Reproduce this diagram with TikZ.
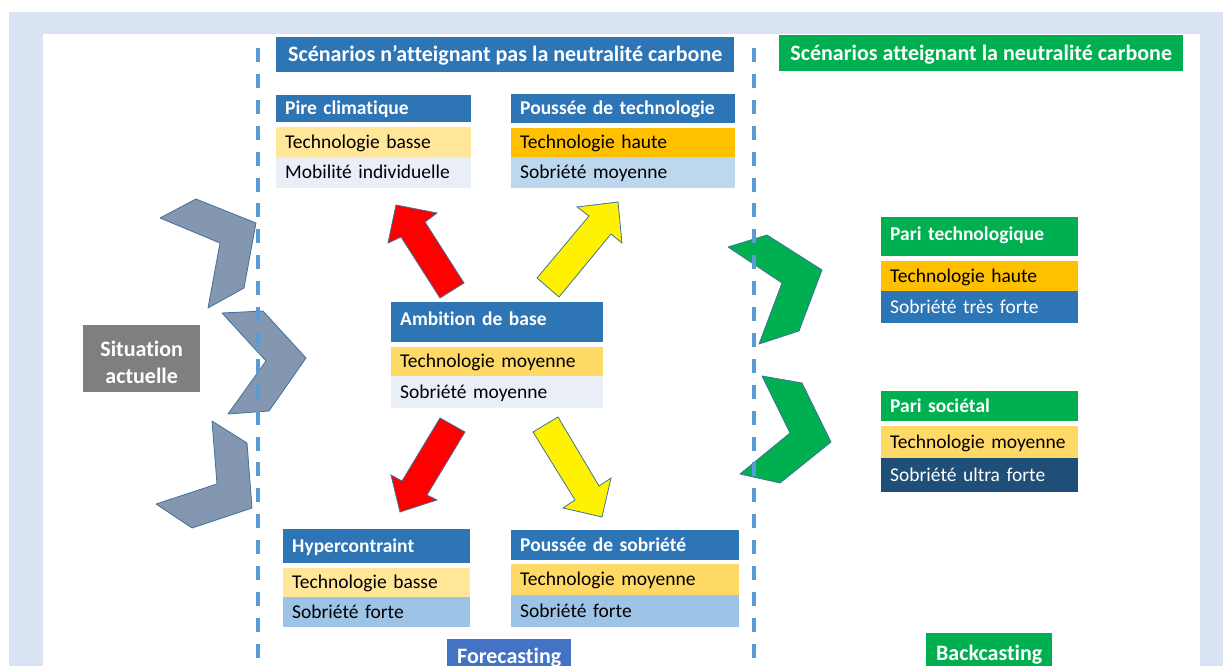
\documentclass[tikz,border=0pt]{standalone}
\usepackage{fontspec}
\setmainfont{Carlito}[Ligatures=CommonOff]
\definecolor{frameblue}{HTML}{DAE3F3}
\definecolor{hdrblue}{HTML}{2E75B6}
\definecolor{foreblue}{HTML}{4472C4}
\definecolor{pgreen}{HTML}{00B050}
\definecolor{techlow}{HTML}{FFE699}
\definecolor{techmid}{HTML}{FFD966}
\definecolor{techhigh}{HTML}{FFC000}
\definecolor{soblight}{HTML}{E9EEF7}
\definecolor{sobmid}{HTML}{BDD7EE}
\definecolor{sobhigh}{HTML}{9DC3E6}
\definecolor{sobultra}{HTML}{1F4E79}
\definecolor{situgray}{HTML}{7F7F7F}
\definecolor{chevgray}{HTML}{8497B0}
\definecolor{chevline}{HTML}{41719C}
\definecolor{sepblue}{HTML}{5B9BD5}
\begin{document}
\begin{tikzpicture}[x=1pt,y=-1pt,
  cell/.style={anchor=north west,inner xsep=9pt,inner ysep=0pt,align=left,text height=12pt,text depth=0pt,font=\fontsize{19.5}{23}\selectfont},
  head/.style={cell,text=white,font=\fontsize{19.5}{23}\selectfont\bfseries},
  title/.style={anchor=north west,inner sep=0pt,align=center,text=white,text height=14pt,text depth=0pt,font=\fontsize{22}{27}\selectfont\bfseries},
  chev/.style={draw=chevline,fill=chevgray,line width=0.8pt,line join=round},
  chevG/.style={chev,fill=pgreen},
  blk/.style={draw=chevline,line width=0.8pt},
  sep/.style={draw=sepblue,line width=3.5pt,dash pattern=on 14pt off 11.9pt}]
\useasboundingbox (0,0) rectangle (1223,666);
\clip (0,0) rectangle (1223,666);

\fill[frameblue] (9,12) rectangle (1223,666);
\fill[white] (43,34) rectangle (1200,666);

\draw[chev] (160,218) -- (196,199) -- (256,223) -- (244,288) -- (208,308) -- (220,243) -- cycle;
\draw[chev] (222,313) -- (263,311) -- (306,358) -- (269,411) -- (228,414) -- (266,361) -- cycle;
\draw[chev] (212,421) -- (247,443) -- (252,508) -- (192,528) -- (156,504) -- (217,484) -- cycle;
\draw[chevG] (728,247) -- (767,235) -- (822,270) -- (799,331) -- (759,344) -- (782,283) -- cycle;
\draw[chevG] (762,376) -- (802,383) -- (831,442) -- (780,483) -- (740,474) -- (790,433) -- cycle;

\draw[sep] (258,48) -- (258,662);
\draw[sep] (754,48) -- (754,662);

\node[title,fill=hdrblue,minimum width=458pt,minimum height=35pt] (ntitle) at (276,37) {Scénarios n’atteignant pas la neutralité carbone};
\node[title,fill=pgreen,minimum width=404pt,minimum height=36pt] (ctitle) at (779,35) {Scénarios atteignant la neutralité carbone};

\node[head,fill=hdrblue,text width=177pt,minimum height=27pt] (pire) at (276,95) {Pire climatique};
\node[cell,fill=techlow,text width=177pt,minimum height=30pt] (pire1) at (276,127) {Technologie basse};
\node[cell,fill=soblight,text width=177pt,minimum height=31pt] (pire2) at (276,157) {Mobilité individuelle};

\node[head,fill=hdrblue,text width=206pt,minimum height=29pt] (pousT) at (511,94) {Poussée de technologie};
\node[cell,fill=techhigh,text width=206pt,minimum height=29pt] (pousT1) at (511,128) {Technologie haute};
\node[cell,fill=sobmid,text width=206pt,minimum height=31pt] (pousT2) at (511,157) {Sobriété moyenne};

\node[head,fill=hdrblue,text width=194pt,minimum height=40pt,text depth=6pt] (ambi) at (391,302) {Ambition de base};
\node[cell,fill=techmid,text width=194pt,minimum height=29pt] (ambi1) at (391,347) {Technologie moyenne};
\node[cell,fill=soblight,text width=194pt,minimum height=32pt] (ambi2) at (391,376) {Sobriété moyenne};

\node[head,fill=hdrblue,text width=169pt,minimum height=34pt] (hyper) at (283,529) {Hypercontraint};
\node[cell,fill=techlow,text width=169pt,minimum height=29pt] (hyper1) at (283,568) {Technologie basse};
\node[cell,fill=sobhigh,text width=169pt,minimum height=30pt] (hyper2) at (283,597) {Sobriété forte};

\node[head,fill=hdrblue,text width=210pt,minimum height=30pt] (pousS) at (511,530) {Poussée de sobriété};
\node[cell,fill=techmid,text width=210pt,minimum height=31pt] (pousS1) at (511,564) {Technologie moyenne};
\node[cell,fill=sobhigh,text width=210pt,minimum height=32pt] (pousS2) at (511,595) {Sobriété forte};

\node[head,fill=pgreen,text width=179pt,minimum height=39pt,text depth=5pt] (pariT) at (881,217) {Pari technologique};
\node[cell,fill=techhigh,text width=179pt,minimum height=30pt] (pariT1) at (881,261) {Technologie haute};
\node[cell,fill=hdrblue,text=white,text width=179pt,minimum height=32pt] (pariT2) at (881,291) {Sobriété très forte};

\node[head,fill=pgreen,text width=179pt,minimum height=30pt] (pariS) at (881,391) {Pari sociétal};
\node[cell,fill=techmid,text width=179pt,minimum height=32pt] (pariS1) at (881,426) {Technologie moyenne};
\node[cell,fill=sobultra,text=white,text width=179pt,minimum height=34pt] (pariS2) at (881,458) {Sobriété ultra forte};

\node[anchor=north west,fill=situgray,text=white,inner sep=0pt,minimum width=117pt,minimum height=67pt,align=center,font=\fontsize{22}{27}\selectfont\bfseries] (situ) at (83,325) {\rule{0pt}{22pt}Situation\\actuelle};

\node[title,fill=foreblue,minimum width=124pt,minimum height=40pt,text depth=6pt] (fore) at (447,639) {Forecasting};
\node[title,fill=pgreen,minimum width=126pt,minimum height=40pt] (back) at (926,633) {Backcasting};

\draw[blk,fill=red] (396,205) -- (437,213) -- (425,222) -- (464,283) -- (440,298) -- (401,237) -- (388,243) -- cycle;
\draw[blk,fill=yellow] (618,202) -- (622,243) -- (611,234) -- (559,297) -- (537,278) -- (589,216) -- (577,207) -- cycle;
\draw[blk,fill=red] (440,418) -- (465,432) -- (427,495) -- (437,500) -- (400,512) -- (391,475) -- (402,481) -- cycle;
\draw[blk,fill=yellow] (533,432) -- (558,417) -- (599,486) -- (611,478) -- (602,517) -- (563,508) -- (575,500) -- cycle;
\end{tikzpicture}
\end{document}
